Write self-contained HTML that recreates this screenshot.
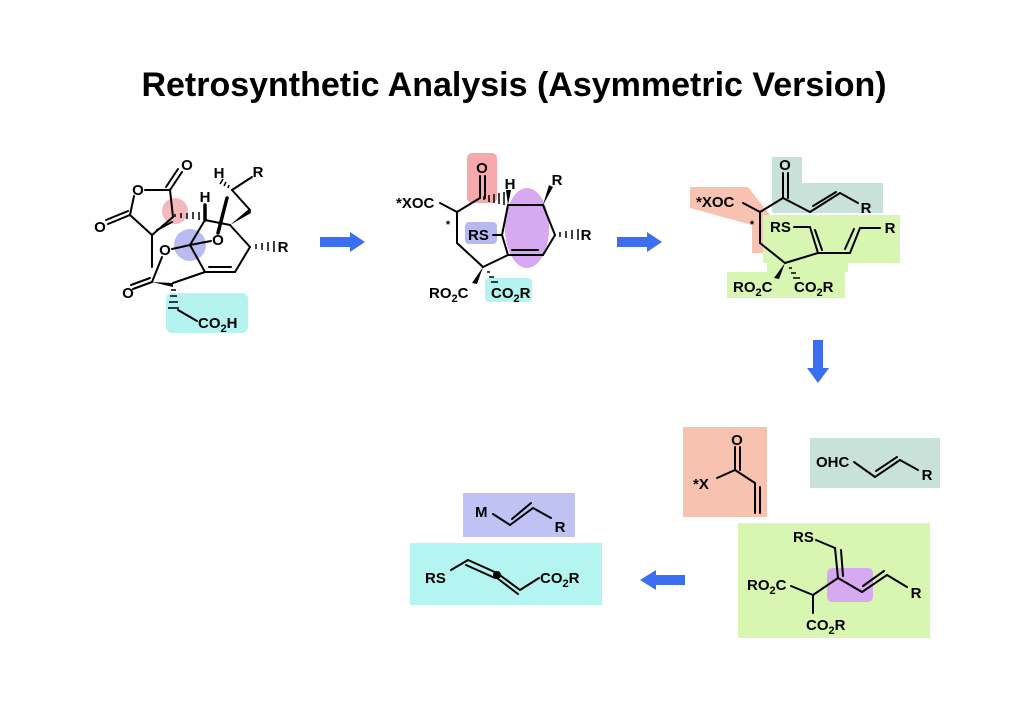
<!DOCTYPE html>
<html><head><meta charset="utf-8"><style>
html,body{margin:0;padding:0;background:#fff;}
svg{display:block;}
text{font-family:"Liberation Sans",sans-serif;font-weight:bold;font-size:15px;fill:#000;}
.s{font-size:11px;}
</style></head><body>
<svg width="1024" height="724" viewBox="0 0 1024 724" xmlns="http://www.w3.org/2000/svg">
<text x="514" y="96" text-anchor="middle" style="font-size:34px">Retrosynthetic Analysis (Asymmetric Version)</text>

<circle cx="175" cy="211" r="13" fill="#f3a8ac" opacity="0.8"/>
<circle cx="190" cy="245" r="16" fill="#a8aaf0" opacity="0.8"/>
<rect x="166" y="293" width="82" height="40" rx="6" fill="#b4f3ef"/>
<rect x="467" y="153" width="30" height="50" rx="5" fill="#f4a9ad"/>
<ellipse cx="527" cy="228" rx="22" ry="40" fill="#d7a9f0"/>
<rect x="465" y="222" width="32" height="22" rx="4" fill="#b5b9f0"/>
<rect x="485" y="278" width="47" height="24" rx="4" fill="#b4f3ef"/>
<polygon points="690,187 748,187 770,215 770,253 752,253 752,225 690,208" fill="#f7c3b0"/>
<rect x="772" y="157" width="30" height="28" fill="#c8e2da"/>
<rect x="772" y="183" width="111" height="30" fill="#c8e2da"/>
<polygon points="763,215 900,215 900,263 848,263 848,272 845,272 845,298 727,298 727,272 767,272 767,263 763,263" fill="#d8f5b2"/>

<g stroke="#000" stroke-width="2" fill="none" stroke-linecap="round">
<line x1="170" y1="190" x2="182" y2="172"/><line x1="166" y1="187" x2="178" y2="169"/>
<line x1="170" y1="190" x2="145" y2="190"/>
<line x1="134" y1="196" x2="130" y2="215"/>
<line x1="130" y1="215" x2="108" y2="224"/><line x1="128" y1="211" x2="106" y2="220"/>
<line x1="130" y1="215" x2="152" y2="235"/>
<line x1="152" y1="235" x2="173" y2="217"/><line x1="157" y1="230" x2="172" y2="222"/>
<line x1="173" y1="217" x2="170" y2="190"/>
<line x1="205" y1="220" x2="205" y2="205" stroke-width="3.5"/>
<line x1="232" y1="190" x2="252" y2="177"/>
<line x1="232" y1="190" x2="250" y2="210"/>
<line x1="205" y1="220" x2="230" y2="225"/>
<line x1="230" y1="225" x2="250" y2="247"/>
<line x1="250" y1="247" x2="235" y2="272"/>
<line x1="235" y1="272" x2="205" y2="272"/><line x1="231" y1="267" x2="209" y2="267"/>
<line x1="205" y1="272" x2="190" y2="245"/>
<line x1="205" y1="220" x2="190" y2="245"/>
<line x1="190" y1="245" x2="211" y2="241"/>
<line x1="190" y1="245" x2="172" y2="249"/>
<line x1="218" y1="233" x2="227" y2="198" stroke-width="3.5"/>
<line x1="205" y1="272" x2="173" y2="283"/>
<line x1="162" y1="257" x2="152" y2="282"/>
<line x1="152" y1="282" x2="133" y2="289"/><line x1="150" y1="278" x2="131" y2="285"/>
<line x1="152" y1="235" x2="152" y2="267"/>
<line x1="178" y1="310" x2="197" y2="321"/>
<line x1="480" y1="198" x2="480" y2="176"/><line x1="485" y1="198" x2="485" y2="176"/>
<line x1="480" y1="198" x2="457" y2="212"/>
<line x1="457" y1="212" x2="440" y2="203"/>
<line x1="457" y1="212" x2="457" y2="243"/>
<line x1="457" y1="243" x2="483" y2="267"/>
<line x1="483" y1="267" x2="508" y2="255"/>
<line x1="508" y1="205" x2="543" y2="205"/>
<line x1="543" y1="205" x2="555" y2="235"/>
<line x1="543" y1="255" x2="508" y2="255"/><line x1="538" y1="250" x2="512" y2="250"/>
<line x1="555" y1="235" x2="543" y2="255"/>
<line x1="508" y1="255" x2="502" y2="235"/>
<line x1="502" y1="235" x2="508" y2="205"/>
<line x1="502" y1="235" x2="493" y2="235"/>
<line x1="783" y1="198" x2="783" y2="173"/><line x1="788" y1="198" x2="788" y2="173"/>
<line x1="783" y1="198" x2="760" y2="212"/>
<line x1="760" y1="212" x2="743" y2="203"/>
<line x1="783" y1="198" x2="810" y2="212"/>
<line x1="810" y1="212" x2="840" y2="193"/><line x1="813" y1="206" x2="836" y2="192"/>
<line x1="840" y1="193" x2="858" y2="203"/>
<line x1="760" y1="212" x2="760" y2="243"/>
<line x1="760" y1="243" x2="785" y2="263"/>
<line x1="794" y1="227" x2="810" y2="227"/>
<line x1="810" y1="227" x2="818" y2="253"/><line x1="815" y1="230" x2="822" y2="250"/>
<line x1="818" y1="253" x2="785" y2="263"/>
<line x1="818" y1="253" x2="850" y2="253"/>
<line x1="850" y1="253" x2="860" y2="228"/><line x1="845" y1="249" x2="854" y2="229"/>
<line x1="860" y1="228" x2="880" y2="228"/>
</g>
<g fill="#000">
<polygon points="230,225 250,208 251,213"/>
<polygon points="152,282 173,283 173,287"/>
<polygon points="508,205 511,190 506,190"/>
<polygon points="543,205 553,187 549,185"/>
<polygon points="483,267 472,283 477,284"/>
<polygon points="785,263 774,278 779,279"/>
</g>
<g stroke="#000" stroke-width="1.5">
<path d="M175,217 v-3 M181,218 v-5 M187,219 v-6 M193,219 v-7 M199,220 v-8"/>
<path d="M229,185 l-1,3 M226,182 l-2,4 M223,179 l-3,5"/>
<path d="M256,244 v5 M262,243 v7 M268,242 v9 M274,241 v11"/>
<path d="M171,290 h5 M170,296 h7 M169,302 h9 M168,308 h11"/>
<path d="M484,196 v4 M489,195 v7 M494,194 v9 M499,193 v11 M504,192 v13"/>
<path d="M560,232 v5 M566,231 v7 M572,230 v9 M578,229 v11"/>
<path d="M487,272 h3 M489,277 h5 M491,282 h7"/>
<path d="M789,268 h3 M791,273 h5 M793,278 h7"/>
</g>
<text x="187" y="170" text-anchor="middle">O</text>
<text x="138" y="195" text-anchor="middle">O</text>
<text x="100" y="232" text-anchor="middle">O</text>
<text x="205" y="202" text-anchor="middle">H</text>
<text x="219" y="178" text-anchor="middle">H</text>
<text x="258" y="177" text-anchor="middle">R</text>
<text x="218" y="245" text-anchor="middle">O</text>
<text x="165" y="255" text-anchor="middle">O</text>
<text x="283" y="252" text-anchor="middle">R</text>
<text x="128" y="298" text-anchor="middle">O</text>
<text x="198" y="328">CO<tspan class="s" dy="4">2</tspan><tspan dy="-4">H</tspan></text>
<text x="482" y="173" text-anchor="middle">O</text>
<text x="396" y="208">*XOC</text>
<text x="448" y="228" class="s" text-anchor="middle">*</text>
<text x="510" y="189" text-anchor="middle">H</text>
<text x="557" y="185" text-anchor="middle">R</text>
<text x="586" y="240" text-anchor="middle">R</text>
<text x="468" y="240">RS</text>
<text x="429" y="298">RO<tspan class="s" dy="4">2</tspan><tspan dy="-4">C</tspan></text>
<text x="491" y="298">CO<tspan class="s" dy="4">2</tspan><tspan dy="-4">R</tspan></text>
<text x="785" y="170" text-anchor="middle">O</text>
<text x="696" y="207">*XOC</text>
<text x="752" y="228" class="s" text-anchor="middle">*</text>
<text x="866" y="213" text-anchor="middle">R</text>
<text x="770" y="232">RS</text>
<text x="890" y="233" text-anchor="middle">R</text>
<text x="733" y="292">RO<tspan class="s" dy="4">2</tspan><tspan dy="-4">C</tspan></text>
<text x="794" y="292">CO<tspan class="s" dy="4">2</tspan><tspan dy="-4">R</tspan></text>

<g fill="#3c6ef0">
<polygon points="320,237 350,237 350,232 365,242 350,252 350,247 320,247"/>
<polygon points="617,237 647,237 647,232 662,242 647,252 647,247 617,247"/>
<polygon points="813,340 823,340 823,368 829,368 818,383 807,368 813,368"/>
<polygon points="685,575 656,575 656,570 640,580 656,590 656,585 685,585"/>
</g>

<rect x="683" y="427" width="84" height="90" fill="#f7c3b0"/>
<rect x="810" y="438" width="130" height="50" fill="#c8e2da"/>
<rect x="738" y="523" width="192" height="115" fill="#d8f5b2"/>
<rect x="827" y="568" width="46" height="34" rx="5" fill="#d7a9f0"/>
<rect x="463" y="493" width="112" height="44" fill="#bfc2f3"/>
<rect x="410" y="543" width="192" height="62" fill="#b4f5f1"/>

<g stroke="#000" stroke-width="2" fill="none" stroke-linecap="round">
<line x1="735" y1="470" x2="735" y2="447"/><line x1="740" y1="470" x2="740" y2="447"/>
<line x1="717" y1="478" x2="735" y2="470"/>
<line x1="735" y1="470" x2="755" y2="483"/>
<line x1="755" y1="483" x2="755" y2="513"/><line x1="760" y1="487" x2="760" y2="513"/>
<line x1="854" y1="462" x2="875" y2="477"/>
<line x1="875" y1="477" x2="900" y2="460"/><line x1="876" y1="471" x2="897" y2="457"/>
<line x1="900" y1="460" x2="918" y2="470"/>
<line x1="816" y1="540" x2="835" y2="548"/>
<line x1="835" y1="548" x2="838" y2="578"/><line x1="841" y1="550" x2="843" y2="576"/>
<line x1="838" y1="578" x2="862" y2="592"/>
<line x1="862" y1="592" x2="887" y2="575"/><line x1="863" y1="586" x2="884" y2="571"/>
<line x1="887" y1="575" x2="907" y2="587"/>
<line x1="791" y1="586" x2="813" y2="595"/>
<line x1="813" y1="595" x2="838" y2="578"/>
<line x1="813" y1="595" x2="813" y2="613"/>
<line x1="493" y1="514" x2="510" y2="525"/>
<line x1="510" y1="525" x2="533" y2="508"/><line x1="512" y1="519" x2="531" y2="503"/>
<line x1="533" y1="508" x2="551" y2="518"/>
<line x1="451" y1="570" x2="468" y2="560"/>
<line x1="468" y1="560" x2="497" y2="573"/><line x1="466" y1="565" x2="495" y2="578"/>
<line x1="497" y1="573" x2="520" y2="590"/><line x1="497" y1="578" x2="518" y2="594"/>
<line x1="520" y1="590" x2="539" y2="578"/>
</g>
<circle cx="497" cy="575" r="4" fill="#000"/>
<text x="737" y="445" text-anchor="middle">O</text>
<text x="693" y="489">*X</text>
<text x="816" y="467">OHC</text>
<text x="927" y="480" text-anchor="middle">R</text>
<text x="793" y="542">RS</text>
<text x="916" y="598" text-anchor="middle">R</text>
<text x="747" y="590">RO<tspan class="s" dy="4">2</tspan><tspan dy="-4">C</tspan></text>
<text x="806" y="630">CO<tspan class="s" dy="4">2</tspan><tspan dy="-4">R</tspan></text>
<text x="475" y="517">M</text>
<text x="560" y="532" text-anchor="middle">R</text>
<text x="425" y="583">RS</text>
<text x="540" y="583">CO<tspan class="s" dy="4">2</tspan><tspan dy="-4">R</tspan></text>
</svg>
</body></html>
